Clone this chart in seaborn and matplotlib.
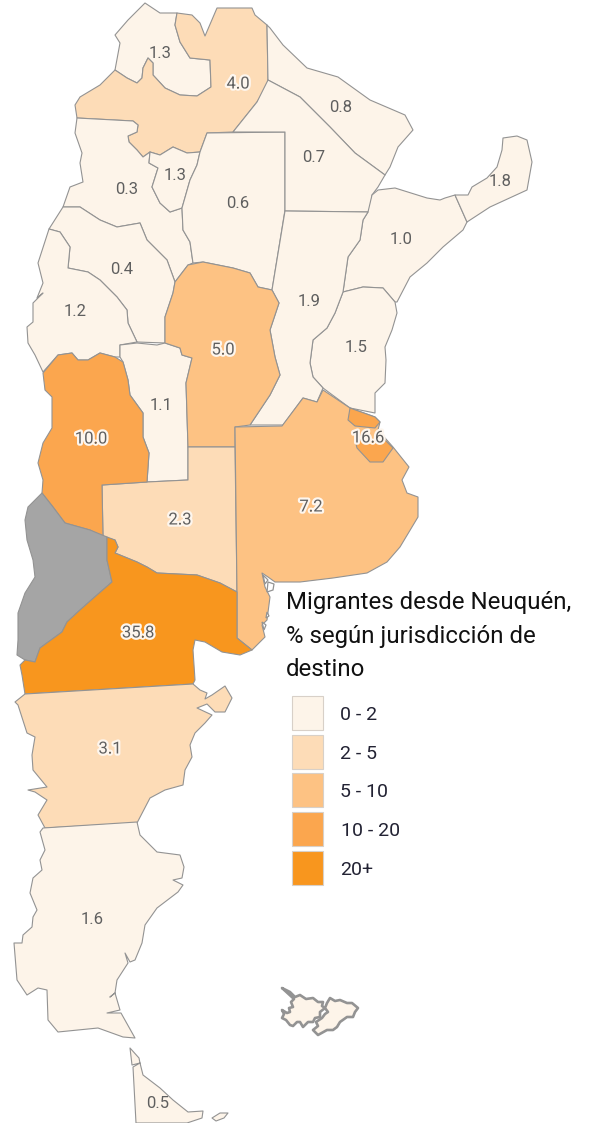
import matplotlib
matplotlib.use('Agg')
import matplotlib.pyplot as plt
import matplotlib.patheffects as pe
import numpy as np
import pandas as pd
import seaborn as sns

# outlines, in picture pixels
jujuy = [(115,70),(120,43),(115,35),(128,20),(145,3),(160,13),(177,13),(175,25),(180,42),(190,58),(210,60),(211,87),(197,96),(180,95),(165,88),(153,75),(153,63),(148,58),(143,68),(142,78),(137,83),(127,78)]
salta = [(177,13),(192,15),(200,23),(205,36),(217,8),(252,8),(255,15),(267,25),(268,80),(267,87),(257,102),(233,132),(207,133),(200,152),(187,153),(173,147),(160,155),(150,152),(143,157),(137,150),(129,142),(128,136),(137,132),(138,125),(133,121),(77,118),(75,105),(80,97),(100,85),(115,70),(127,78),(137,83),(142,78),(143,68),(148,58),(153,63),(153,75),(165,88),(180,95),(197,96),(211,87),(210,60),(190,58),(180,42),(175,25)]
catamarca = [(77,118),(133,121),(138,125),(137,132),(128,136),(129,142),(137,150),(143,157),(150,152),(149,163),(158,168),(152,187),(160,203),(170,212),(182,208),(183,230),(190,242),(193,263),(188,265),(175,282),(167,260),(147,240),(140,223),(117,227),(100,220),(80,207),(63,207),(70,187),(83,182),(80,163),(82,153),(75,133)]
tucuman = [(150,152),(160,155),(173,147),(187,153),(200,152),(197,165),(190,180),(182,208),(170,212),(160,203),(152,187),(158,168),(149,163)]
santiago = [(207,133),(285,132),(285,210),(272,290),(258,287),(250,273),(233,268),(203,262),(193,263),(190,242),(183,230),(182,208),(190,180),(197,165),(200,152)]
cordoba = [(175,282),(188,265),(203,262),(233,268),(250,273),(258,287),(272,290),(279,303),(270,330),(275,357),(280,375),(270,395),(250,425),(235,427),(235,447),(188,447),(186,383),(192,358),(182,355),(180,348),(165,343),(165,317),(173,293)]
la_rioja = [(63,207),(80,207),(100,220),(117,227),(140,223),(147,240),(167,260),(175,282),(173,293),(165,317),(165,343),(137,342),(128,323),(127,310),(117,297),(100,280),(88,272),(68,268),(70,247),(60,232),(49,229)]
san_juan = [(49,229),(60,232),(70,247),(68,268),(88,272),(100,280),(117,297),(127,310),(128,323),(137,342),(120,345),(120,357),(115,357),(100,353),(88,360),(78,360),(72,353),(58,355),(43,372),(35,355),(28,343),(27,327),(33,322),(33,303),(43,293),(37,298),(43,283),(38,263)]
mendoza = [(43,373),(58,355),(72,353),(78,360),(88,360),(100,353),(115,357),(123,362),(128,380),(130,395),(143,413),(143,437),(149,453),(147,482),(102,485),(103,537),(90,530),(65,523),(53,507),(42,493),(43,480),(38,463),(43,443),(52,428),(52,397),(45,390)]
san_luis = [(120,345),(137,343),(157,345),(165,343),(180,348),(182,355),(192,358),(186,383),(188,447),(188,480),(147,482),(149,453),(143,437),(143,413),(130,395),(128,380),(123,362),(120,357)]
la_pampa = [(102,485),(147,482),(188,480),(188,447),(235,447),(237,592),(220,583),(197,575),(157,573),(147,567),(137,562),(115,553),(118,547),(115,540),(103,537)]
neuquen = [(42,493),(53,507),(65,523),(90,530),(107,537),(107,560),(112,582),(97,595),(80,610),(67,622),(62,632),(40,648),(35,662),(25,660),(17,655),(18,640),(18,613),(25,593),(35,577),(33,560),(27,540),(25,520),(28,507)]
rio_negro = [(107,537),(115,540),(118,547),(115,553),(137,562),(147,567),(157,573),(197,575),(220,583),(237,592),(237,638),(252,650),(240,655),(222,652),(205,642),(195,640),(193,650),(195,680),(193,684),(25,694),(22,675),(20,665),(25,660),(35,662),(40,648),(62,632),(67,622),(80,610),(97,595),(112,582),(107,560)]
chubut = [(25,694),(193,684),(200,690),(207,693),(205,699),(212,695),(225,686),(232,698),(225,712),(215,712),(207,704),(197,708),(212,715),(205,723),(195,733),(190,745),(192,757),(185,770),(183,785),(165,790),(150,798),(137,823),(45,828),(38,815),(47,800),(35,792),(28,790),(47,787),(33,770),(32,755),(35,737),(27,733),(18,705),(15,702)]
santa_cruz = [(43,828),(137,822),(140,835),(157,852),(180,855),(184,867),(182,878),(173,880),(183,885),(178,892),(157,908),(145,925),(142,943),(135,960),(130,962),(125,953),(128,963),(117,980),(115,993),(110,997),(115,993),(120,1010),(107,1013),(121,1013),(135,1038),(123,1037),(98,1028),(58,1032),(48,1020),(47,990),(38,988),(27,995),(17,980),(14,943),(22,943),(23,935),(32,927),(33,917),(37,910),(30,893),(33,878),(42,870),(40,860),(45,850),(40,832)]
tierra_fuego = [(130,1048),(139,1058),(140,1063),(133,1067),(136,1123),(187,1123),(202,1118),(203,1111),(188,1112),(173,1100),(160,1088),(143,1075),(140,1063),(132,1065)]
isla_estados = [(212,1118),(220,1113),(228,1113),(224,1118),(216,1121)]
malvinas_w = [(282,988),(290,992),(295,997),(300,995),(306,999),(313,998),(318,1002),(323,1002),(322,1006),(325,1008),(320,1012),(320,1017),(315,1018),(313,1022),(308,1022),(303,1027),(300,1022),(297,1022),(293,1026),(290,1025),(286,1020),(282,1018),(284,1014),(282,1010),(287,1013),(290,1012),(289,1008),(293,1007),(291,1002),(294,999)]
malvinas_e = [(330,998),(335,1001),(340,1000),(347,1003),(352,1003),(358,1008),(355,1012),(353,1017),(347,1017),(340,1022),(337,1027),(333,1030),(327,1030),(318,1035),(313,1030),(318,1026),(316,1022),(322,1018),(325,1014),(328,1012),(325,1008),(327,1003)]
formosa = [(267,25),(270,28),(283,45),(307,68),(338,77),(370,100),(405,115),(413,130),(398,147),(390,167),(385,175),(355,153),(330,127),(300,97),(268,80)]
chaco = [(268,80),(300,97),(330,127),(355,153),(385,175),(378,187),(372,195),(370,212),(285,211),(285,132),(233,132),(257,102)]
corrientes = [(378,190),(395,188),(427,198),(440,200),(445,198),(455,195),(467,222),(463,230),(443,247),(427,263),(410,277),(397,302),(395,302),(383,288),(363,287),(343,292),(348,257),(360,240),(363,220),(368,212),(372,195)]
misiones = [(455,195),(468,195),(472,187),(487,178),(497,167),(502,150),(503,138),(517,136),(527,140),(532,162),(527,190),(490,207),(467,222)]
entre_rios = [(343,292),(363,287),(383,288),(395,302),(397,313),(392,330),(385,347),(386,360),(385,383),(375,393),(375,413),(350,408),(323,388),(313,377),(310,363),(313,340),(327,328),(335,313)]
santa_fe = [(285,211),(368,212),(363,220),(360,240),(348,257),(343,292),(335,313),(327,328),(313,340),(310,363),(313,377),(323,388),(317,402),(303,398),(283,425),(250,425),(270,395),(280,375),(275,357),(270,330),(279,303),(272,290)]
buenos_aires = [(235,427),(282,426),(303,398),(317,402),(323,390),(350,408),(375,417),(380,422),(378,430),(393,447),(409,467),(402,480),(407,493),(418,497),(418,517),(400,547),(387,562),(367,573),(333,578),(300,582),(275,582),(268,577),(262,573),(265,587),(270,597),(267,620),(262,625),(265,637),(252,650),(237,638),(237,592)]
gba_norte = [(350,408),(375,417),(380,422),(375,428),(355,426),(348,420)]
gba_sur = [(355,440),(357,448),(370,462),(383,462),(393,448),(385,440)]

# little islets along the Bahia Blanca coast, no value of their own
islotes = [[(263,575),(268,580),(265,584)], [(268,582),(274,584),(273,590),(267,592)], [(267,612),(269,616),(266,618)], [(262,622),(266,625),(264,630)]]

names = ['Jujuy', 'Salta', 'Catamarca', 'Tucuman', 'Santiago', 'La Rioja', 'San Juan', 'San Luis', 'Formosa', 'Chaco', 'Corrientes', 'Misiones', 'Entre Rios', 'Santa Fe', 'Cordoba', 'La Pampa', 'Buenos Aires', 'GBA norte', 'GBA sur', 'Mendoza', 'Neuquen', 'Rio Negro', 'Chubut', 'Santa Cruz', 'Tierra del Fuego', 'Isla Estados', 'Malvinas O', 'Malvinas E']
outlines = [jujuy, salta, catamarca, tucuman, santiago, la_rioja, san_juan, san_luis, formosa, chaco, corrientes, misiones, entre_rios, santa_fe, cordoba, la_pampa, buenos_aires, gba_norte, gba_sur, mendoza, neuquen, rio_negro, chubut, santa_cruz, tierra_fuego, isla_estados, malvinas_w, malvinas_e]
values = [1.3, 4.0, 0.3, 1.3, 0.6, 0.4, 1.2, 1.1, 0.8, 0.7, 1.0, 1.8, 1.5, 1.9, 5.0, 2.3, 7.2, 16.6, 16.6, 10.0, np.nan, 35.8, 3.1, 1.6, 0.5, 0.5, 0.5, 0.5]
label_x = [160, 238, 127, 175, 238, 122, 75, 161, 341, 314, 401, 500, 356, 309, 223, 180, 311, 368, None, 91, None, 138, 110, 92, 158, None, None, None]
label_y = [54, 84, 190, 176, 203, 269, 311, 406, 107, 157, 240, 181, 348, 302, 350, 520, 507, 438, None, 439, None, 633, 749, 920, 1103, None, None, None]

bins = [0, 2, 5, 10, 20, np.inf]
classes = ['0 - 2', '2 - 5', '5 - 10', '10 - 20', '20+']
class_colors = ['#fdf4e9', '#fddcb7', '#fdc283', '#fba64e', '#f8961e']
no_data = '#a5a5a5'
edge = '#939393'

df = pd.DataFrame({'name': names, 'value': values, 'x': label_x, 'y': label_y})
df['clase'] = pd.cut(df['value'], bins=bins, labels=classes, right=False)
palette = dict(zip(classes, sns.color_palette(class_colors)))

sns.set_theme(style='white')
plt.rcParams['font.family'] = ['Roboto', 'DejaVu Sans']

fig = plt.figure(figsize=(5.89, 11.23), dpi=100)
ax = fig.add_axes([0, 0, 1, 1])
ax.set_xlim(0, 589)
ax.set_ylim(1123, 0)
ax.axis('off')

for name, outline, clase in zip(names, outlines, df['clase']):
    xs, ys = zip(*outline)
    color = no_data if pd.isna(clase) else palette[clase]
    # Malvinas read as a thick smudge of coastline
    lw = 1.9 if name.startswith('Malvinas') else 0.8
    ax.fill(xs, ys, facecolor=color, edgecolor=edge, linewidth=lw, joinstyle='round')

for islote in islotes:
    xs, ys = zip(*islote)
    ax.fill(xs, ys, facecolor='white', edgecolor=edge, linewidth=0.9)

# light halo only shows on the darker classes
for _, row in df.dropna(subset=['x']).iterrows():
    txt = ax.text(row['x'], row['y'], f"{row['value']:.1f}", ha='center', va='center',
                  fontsize=12, color='#5f5f5f')
    if row['value'] >= 2:
        txt.set_path_effects([pe.withStroke(linewidth=3.2, foreground='#fdf6ee')])

ax.text(286, 603, 'Migrantes desde Neuquén,', fontsize=17.3, color='#111111', va='center')
ax.text(286, 636, '% según jurisdicción de', fontsize=17.3, color='#111111', va='center')
ax.text(286, 669, 'destino', fontsize=17.3, color='#111111', va='center')

legend_y = [696, 735, 773, 812, 851]
legend_text_x = [340, 340, 340, 341, 340]
for top, tx, clase in zip(legend_y, legend_text_x, classes):
    ax.fill([292, 323, 323, 292], [top, top, top + 34, top + 34],
            facecolor=palette[clase], edgecolor='#d8d0c8', linewidth=0.8)
    ax.text(tx, top + 19, clase, fontsize=14, color='#222233', va='center')

fig.savefig('out.png', dpi=100)
